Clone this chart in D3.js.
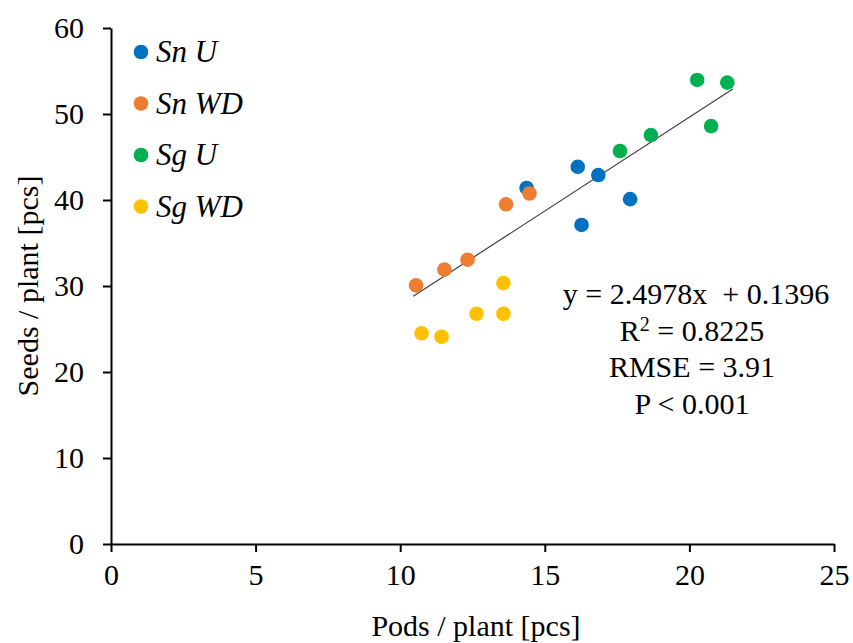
<!DOCTYPE html>
<html>
<head>
<meta charset="utf-8">
<script src="https://cdn.jsdelivr.net/npm/d3@7"></script>
<style>
  body { margin: 0; background: #fff; }
  text { font-family: "Liberation Serif", "Times New Roman", serif; }
</style>
</head>
<body>
<div id="chart"></div>
<script>
// series (pods, seeds per plant)
var snU_x = [16.14, 16.85, 17.95, 16.27, 14.37];
var snU_y = [43.86, 42.9, 40.1, 37.1, 41.4];
var snWD_x = [14.47, 13.66, 12.33, 11.53, 10.55];
var snWD_y = [40.76, 39.5, 33.06, 31.9, 30.07];
var sgU_x = [20.27, 21.31, 20.75, 18.67, 17.6];
var sgU_y = [53.96, 53.65, 48.6, 47.55, 45.7];
var sgWD_x = [13.57, 13.57, 12.64, 10.74, 11.43];
var sgWD_y = [30.34, 26.77, 26.77, 24.5, 24.1];

var seriesNames = ["Sn U", "Sn WD", "Sg U", "Sg WD"];
var seriesColors = ["#0070C0", "#ED7D31", "#00B050", "#FFC000"];

// trend line ends as drawn
var trendX = [10.45, 21.5];
var trendY = [28.8, 52.9];

var statLines = ["y = 2.4978x  + 0.1396", "R2 = 0.8225", "RMSE = 3.91", "P < 0.001"];

var xTicks = [0, 5, 10, 15, 20, 25];
var yTicks = [0, 10, 20, 30, 40, 50, 60];

var margin = {top: 28, right: 19, bottom: 99, left: 111},
    width = 853 - margin.left - margin.right,
    height = 643 - margin.top - margin.bottom;

var svg = d3.select("#chart").append("svg")
    .attr("width", 853)
    .attr("height", 643);

var g = svg.append("g")
    .attr("transform", "translate(" + margin.left + "," + margin.top + ")");

var x = d3.scaleLinear().domain([0, 25]).range([0, width]);
var y = d3.scaleLinear().domain([0, 60]).range([height, 0]);

var xAxis = g.append("g")
    .attr("transform", "translate(0," + height + ")")
    .call(d3.axisBottom(x).tickValues(xTicks).tickSize(8).tickSizeOuter(0).tickPadding(13));

var yAxis = g.append("g")
    .call(d3.axisLeft(y).tickValues(yTicks).tickSize(8).tickSizeOuter(0).tickPadding(19));

[xAxis, yAxis].forEach(function(a) {
    a.attr("font-family", null).attr("font-size", null);
    a.select(".domain").attr("stroke", "#000").attr("stroke-width", 2);
    a.selectAll(".tick line").attr("stroke", "#000").attr("stroke-width", 2);
    a.selectAll(".tick text")
        .style("font-family", "'Liberation Serif', serif")
        .style("font-size", "30px")
        .attr("fill", "#000");
});
xAxis.selectAll(".tick text").attr("dy", "0.68em");
yAxis.selectAll(".tick text").attr("dy", "0.33em");

// axis titles
svg.append("text")
    .attr("x", 476)
    .attr("y", 636)
    .style("text-anchor", "middle")
    .style("font-size", "30px")
    .text("Pods / plant [pcs]");

svg.append("text")
    .attr("transform", "rotate(-90)")
    .attr("x", -286)
    .attr("y", 38)
    .style("text-anchor", "middle")
    .style("font-size", "30px")
    .text("Seeds / plant [pcs]");

// trend line
g.append("line")
    .attr("x1", x(trendX[0])).attr("y1", y(trendY[0]))
    .attr("x2", x(trendX[1])).attr("y2", y(trendY[1]))
    .attr("stroke", "#404040")
    .attr("stroke-width", 1.2);

var allSeries = [
    {xs: snU_x, ys: snU_y},
    {xs: snWD_x, ys: snWD_y},
    {xs: sgU_x, ys: sgU_y},
    {xs: sgWD_x, ys: sgWD_y}
];

allSeries.forEach(function(s, k) {
    g.append("g").selectAll("circle").data(s.xs).enter()
        .append("circle")
        .attr("cx", function(d) { return x(d); })
        .attr("cy", function(d, i) { return y(s.ys[i]); })
        .attr("r", 7.3)
        .attr("fill", seriesColors[k]);
});

// legend
var legend = svg.append("g");
seriesNames.forEach(function(name, i) {
    var ly = 52 + i * 51.5;
    legend.append("circle")
        .attr("cx", 141).attr("cy", ly).attr("r", 7.3)
        .attr("fill", seriesColors[i]);
    legend.append("text")
        .attr("x", 156).attr("y", ly + 10)
        .style("font-size", "31px")
        .style("font-style", "italic")
        .text(name);
});

// regression stats
var stats = svg.append("g")
    .style("font-size", "30px")
    .style("text-anchor", "middle");
statLines.forEach(function(t, i) {
    var tx = stats.append("text")
        .attr("x", i == 0 ? 696 : 692)
        .attr("y", 304 + i * 36.5)
        .attr("xml:space", "preserve");
    if (i == 1) {
        tx.append("tspan").text("R");
        tx.append("tspan").attr("dy", -10).style("font-size", "20px").text("2");
        tx.append("tspan").attr("dy", 10).text(" = 0.8225");
    } else {
        tx.text(t);
    }
});
</script>
</body>
</html>
